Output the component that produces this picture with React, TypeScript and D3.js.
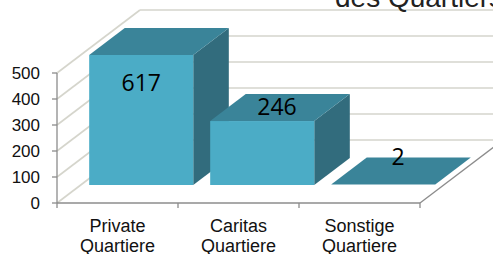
import React, { useEffect, useRef } from 'react';
import * as d3 from 'd3';

const categories = ['Private|Quartiere', 'Caritas|Quartiere', 'Sonstige|Quartiere'];
const values = [617, 246, 2];
const yTicks = [0, 100, 200, 300, 400, 500];
const titleText = 'des Quartiers';

const App = () => {
    const svgRef = useRef(null);

    useEffect(() => {
        const width = 493;
        const height = 254;
        const svg = d3.select(svgRef.current);
        svg.selectAll('*').remove();

        // front plane of the box
        const x = d3.scaleBand()
            .domain(categories)
            .range([57, 420])
            .paddingInner(0.14)
            .paddingOuter(0.07);
        const y = d3.scaleLinear().domain([0, 500]).range([203, 73]);
        const yMax = 500;

        // depth vector of the whole box (front -> back wall)
        const depth = { x: 83, y: -63 };
        const d0 = 2 / 7, d1 = 5 / 7; // bars sit in the middle of the depth

        const grid = '#d5d5cc';
        const axisCol = '#8c8c8c';

        // left wall + back wall gridlines
        yTicks.forEach(t => {
            svg.append('line')
                .attr('x1', 57).attr('y1', y(t))
                .attr('x2', 57 + depth.x).attr('y2', y(t) + depth.y)
                .attr('stroke', grid).attr('stroke-width', 1.6);
            svg.append('line')
                .attr('x1', 57 + depth.x).attr('y1', y(t) + depth.y)
                .attr('x2', 420 + depth.x).attr('y2', y(t) + depth.y)
                .attr('stroke', grid).attr('stroke-width', 1.6);
        });

        // floor edges
        svg.append('line')
            .attr('x1', 57).attr('y1', y(0)).attr('x2', 420).attr('y2', y(0))
            .attr('stroke', axisCol).attr('stroke-width', 1.3);
        svg.append('line')
            .attr('x1', 420).attr('y1', y(0)).attr('x2', 420 + depth.x).attr('y2', y(0) + depth.y)
            .attr('stroke', axisCol).attr('stroke-width', 1.3);

        // y axis
        svg.append('line')
            .attr('x1', 57).attr('y1', y(500)).attr('x2', 57).attr('y2', y(0))
            .attr('stroke', axisCol).attr('stroke-width', 1.3);
        yTicks.forEach(t => {
            svg.append('line')
                .attr('x1', 52).attr('y1', y(t)).attr('x2', 57).attr('y2', y(t))
                .attr('stroke', axisCol).attr('stroke-width', 1.3);
            svg.append('text')
                .attr('x', 40).attr('y', y(t) + 6)
                .attr('text-anchor', 'end')
                .attr('font-family', 'Liberation Sans, Arial, sans-serif')
                .attr('font-size', 17)
                .attr('fill', '#111')
                .text(t);
        });

        // category ticks and labels
        const step = x.step();
        const catEdges = [57, ...categories.map((c, i) => 57 + step * (i + 1))];
        catEdges.forEach(e => {
            svg.append('line')
                .attr('x1', e).attr('y1', y(0)).attr('x2', e).attr('y2', y(0) + 5)
                .attr('stroke', axisCol).attr('stroke-width', 1.3);
        });
        categories.forEach((c, i) => {
            const cx = 57 + step * (i + 0.5);
            const t = svg.append('text')
                .attr('text-anchor', 'middle')
                .attr('font-family', 'Liberation Sans, Arial, sans-serif')
                .attr('font-size', 18)
                .attr('fill', '#111');
            c.split('|').forEach((line, j) => {
                t.append('tspan').attr('x', cx).attr('y', 232 + j * 19.5).text(line);
            });
        });

        // bars
        const front = '#4bacc6';
        const top = '#3a8499';
        const side = '#326c7d';
        values.forEach((v, i) => {
            const vc = Math.min(v, yMax);
            const xl = x(categories[i]) + depth.x * d0;
            const xr = xl + x.bandwidth();
            const yb = y(0) + depth.y * d0;
            const yt = y(vc) + depth.y * d0;
            const dx = depth.x * (d1 - d0);
            const dy = depth.y * (d1 - d0);
            const h = yb - yt;
            const g = svg.append('g');
            if (h > 1) {
                g.append('path')
                    .attr('d', `M${xr},${yt}L${xr + dx},${yt + dy}L${xr + dx},${yb + dy}L${xr},${yb}Z`)
                    .attr('fill', side);
            }
            g.append('path')
                .attr('d', `M${xl},${yt}L${xl + dx},${yt + dy}L${xr + dx},${yt + dy}L${xr},${yt}Z`)
                .attr('fill', top);
            if (h > 1) {
                g.append('rect')
                    .attr('x', xl).attr('y', yt)
                    .attr('width', xr - xl).attr('height', h)
                    .attr('fill', front);
            }

            // data label
            let lx, ly;
            if (v > yMax) {
                lx = (xl + xr) / 2;
                ly = yt + 36;
            } else {
                lx = (xl + xr) / 2 + dx / 2 - 3;
                ly = Math.min(yt - 6, yb + dy + 7);
            }
            svg.append('text')
                .attr('x', lx).attr('y', ly)
                .attr('text-anchor', 'middle')
                .attr('font-family', 'Open Sans, sans-serif')
                .attr('font-size', 23)
                .attr('fill', '#000')
                .text(v);
        });

        // title (mostly above the visible area)
        svg.append('text')
            .attr('x', 335).attr('y', 6.5)
            .attr('font-family', 'Liberation Sans, Arial, sans-serif')
            .attr('font-size', 28)
            .attr('fill', '#222')
            .text(titleText);

        svg.attr('width', width).attr('height', height);
    }, []);

    return (
        <div style={{ position: 'absolute', left: 0, top: 0, width: 493, height: 254, background: '#fff' }}>
            <svg ref={svgRef} width={493} height={254} style={{ display: 'block' }}></svg>
        </div>
    );
};

export default App;
